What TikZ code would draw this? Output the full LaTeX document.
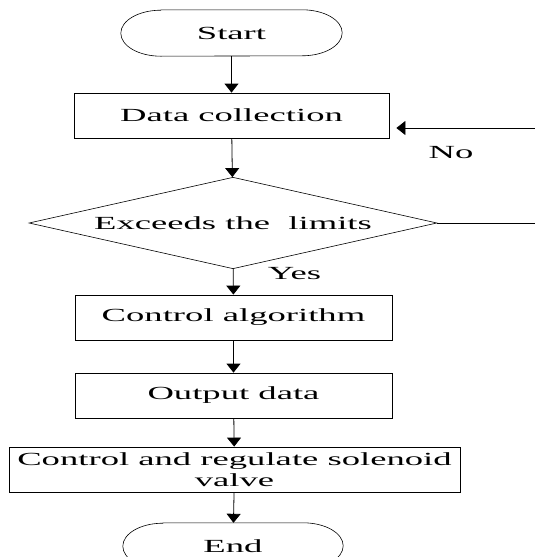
\documentclass[tikz,border=0pt]{standalone}
\usepackage{fontspec}
\setmainfont{Liberation Serif}[FakeStretch=1.98]
\usepackage{tikz}
\usetikzlibrary{arrows.meta,shapes.geometric}

\tikzset{
	txt/.style={font=\fontsize{18.5}{21}\selectfont},
	box/.style={txt, draw, line width=0.8pt, inner sep=0pt, minimum height=45pt},
	terminal/.style={txt, inner sep=0pt, minimum width=221pt, minimum height=46pt},
	decision/.style={txt, draw, diamond, line width=0.6pt, inner sep=0pt, aspect=4.46, minimum width=408pt, minimum height=91.5pt},
	flow/.style={line width=0.8pt, -{Triangle[width=14pt,length=9pt]}},
}

\begin{document}
\begin{tikzpicture}[x=1pt,y=-1pt]
	
	\useasboundingbox (0,0) rectangle (535,557);
	
	\node[terminal] (start) at (231.5,33) {Start};
	\node[box, minimum width=315pt] (collect) at (231.5,115.5) {Data collection};
	\node[decision] (limits) at (233,223) {Exceeds the\ \ limits};
	\node[box, minimum width=317pt] (algo) at (233.5,317.5) {Control algorithm};
	\node[box, minimum width=317pt] (output) at (233.5,395.5) {Output data};
	\node[box, minimum width=451pt, align=center] (valve) at (234.5,469.5) {Control and regulate solenoid\\valve};
	\node[terminal, minimum width=220pt] (stop) at (233,546) {End};
	
	\draw[line width=0.6pt] ([xshift=40pt]start.north west) -- ([xshift=-40pt]start.north east)
		arc[start angle=90, end angle=-90, x radius=40pt, y radius=23pt]
		-- ([xshift=40pt]start.south west)
		arc[start angle=270, end angle=90, x radius=40pt, y radius=23pt] -- cycle;
	\draw[line width=0.6pt] ([xshift=40pt]stop.north west) -- ([xshift=-40pt]stop.north east)
		arc[start angle=90, end angle=-90, x radius=40pt, y radius=23pt]
		-- ([xshift=40pt]stop.south west)
		arc[start angle=270, end angle=90, x radius=40pt, y radius=23pt] -- cycle;
	
	\coordinate (fbin) at (535,128);
	\coordinate (fbout) at (535,223);
	
	\draw[flow] (start) -- (collect);
	\draw[flow] (collect) -- (limits);
	\draw[flow] (limits) -- (algo);
	\draw[flow] (algo) -- (output);
	\draw[flow] (output) -- (valve);
	\draw[flow] (valve) -- (stop);
	\draw[line width=0.6pt] (limits.east) -- (fbout);
	\draw[flow, shorten >=7pt] (fbin) -- (collect.east |- fbin);
	
	\node[txt] (no) at (451,152.5) {No};
	\node[txt] (yes) at (294.5,274) {Yes};
	
\end{tikzpicture}
\end{document}
